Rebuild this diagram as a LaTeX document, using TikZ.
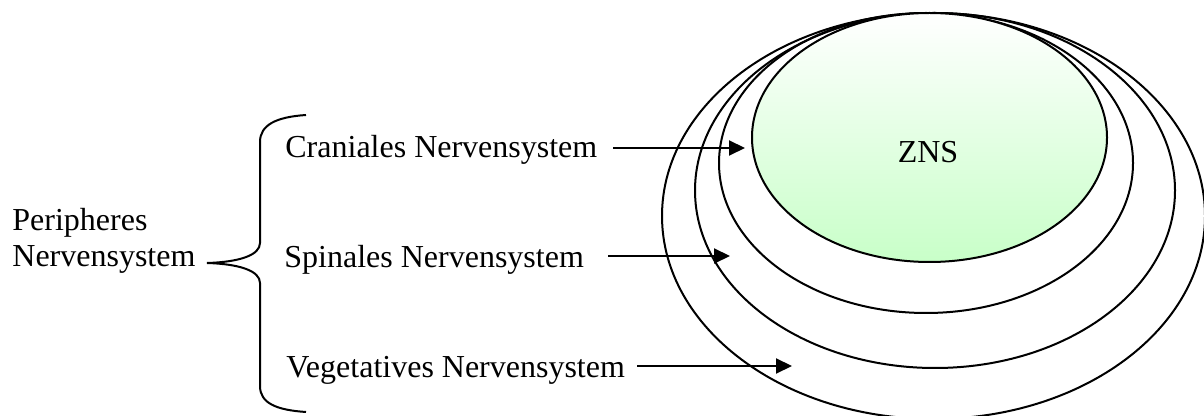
\documentclass[tikz,border=0pt]{standalone}
\usepackage{fontspec}
\setmainfont{Liberation Serif}
\usetikzlibrary{arrows.meta,shapes.geometric}
\definecolor{znsgreen}{RGB}{200,255,200}
\begin{document}
\begin{tikzpicture}[x=0.5pt,y=-0.5pt,
  ring/.style={draw=black, line width=1pt, ellipse, inner sep=0pt, outer sep=0pt},
  lbl/.style={font=\fontsize{16}{18}\selectfont, inner sep=0pt},
  pointer/.style={draw=black, line width=1pt, -{Triangle[length=8pt,width=7.5pt]}},
  bracestyle/.style={draw=black, line width=1pt}]
\useasboundingbox (0,0) rectangle (1204,416);
% nested ellipses
\node[ring, minimum width=271.5pt, minimum height=203pt] (veg) at (933.5,216) {};
\node[ring, minimum width=240pt, minimum height=177.5pt] (spi) at (935,190.5) {};
\node[ring, minimum width=207pt, minimum height=150pt] (cra) at (926,163) {};
\node[ring, top color=white, bottom color=znsgreen, minimum width=177.5pt, minimum height=124.5pt] (zns) at (929.5,137.5) {};
\node[lbl, anchor=base] (znstext) at (928,163) {ZNS};
% labels
\node[lbl, anchor=base west] (crn) at (285,158) {Craniales Nervensystem};
\node[lbl, anchor=base west] (spn) at (284,268) {Spinales Nervensystem};
\node[lbl, anchor=base west] (vgn) at (286,378) {Vegetatives Nervensystem};
\node[lbl, anchor=base west, align=left] (pns) at (12,267) {Peripheres\\Nervensystem};
% brace
\draw[bracestyle] (306,115) .. controls (276,117) and (260,125) .. (260,142)
  -- (260,243) .. controls (260,255) and (240,262) .. (207,263)
  .. controls (240,264) and (260,271) .. (260,283)
  -- (260,386) .. controls (260,403) and (276,410) .. (306,412);
% arrows
\coordinate (a1s) at (613,148); \coordinate (a1e) at (745,148);
\coordinate (a2s) at (608,256); \coordinate (a2e) at (730,256);
\coordinate (a3s) at (637,366); \coordinate (a3e) at (792,366);
\draw[pointer] (a1s) -- (a1e);
\draw[pointer] (a2s) -- (a2e);
\draw[pointer] (a3s) -- (a3e);
\end{tikzpicture}
\end{document}
